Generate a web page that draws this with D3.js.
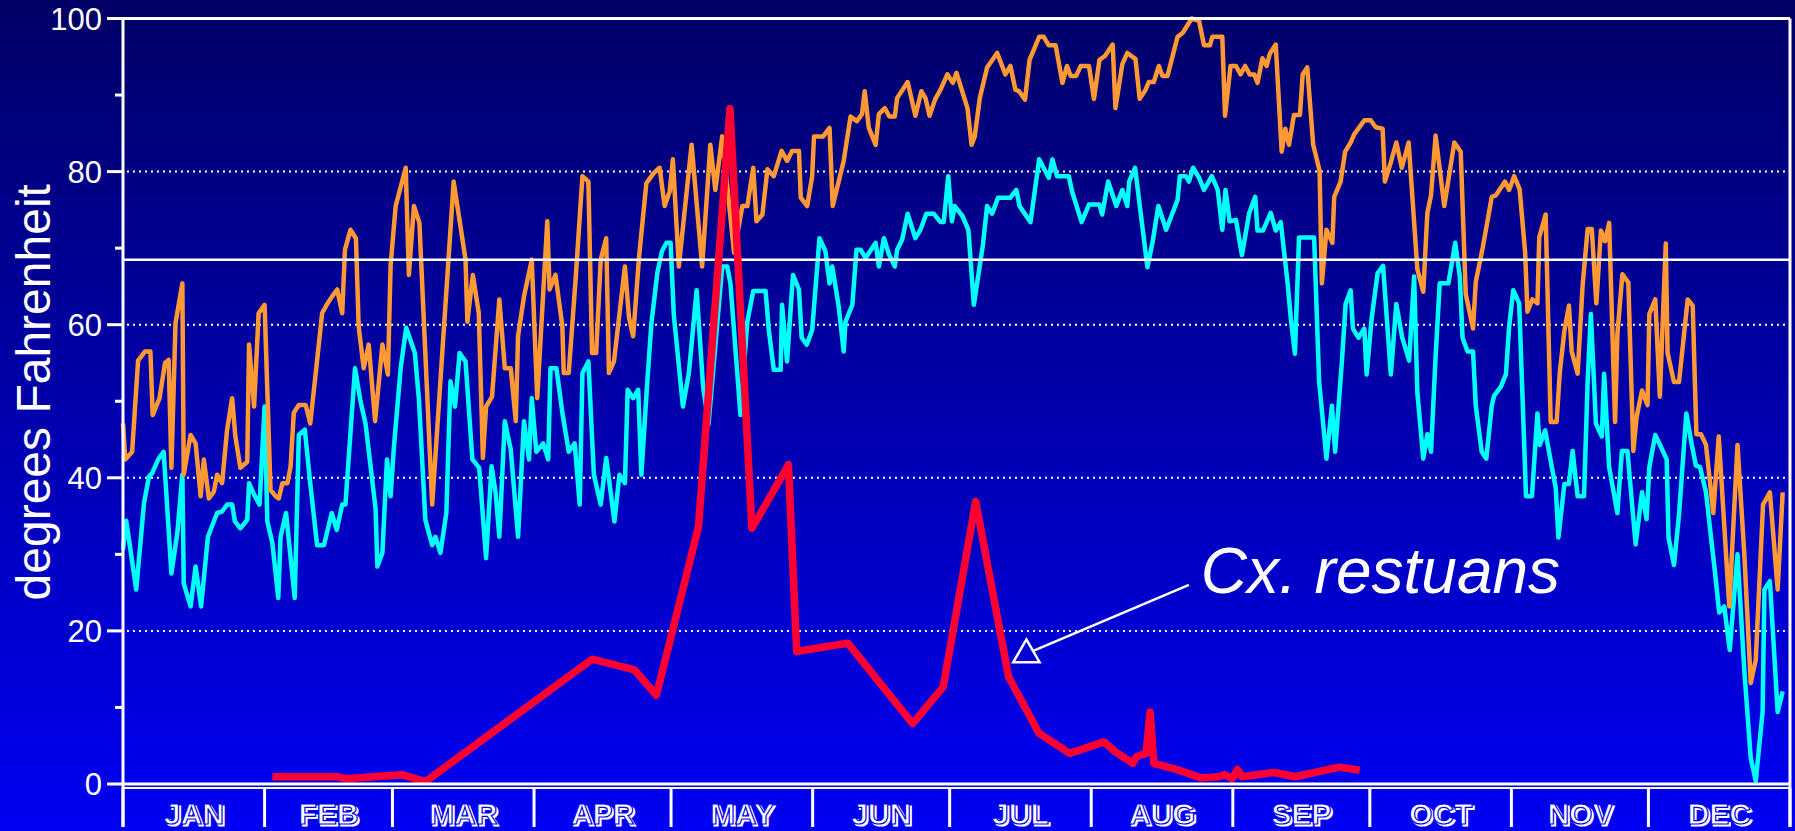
<!DOCTYPE html>
<html>
<head>
<meta charset="utf-8">
<script src="https://cdn.jsdelivr.net/npm/d3@7"></script>
<style>
  html, body { margin: 0; padding: 0; background: #000080; }
  svg { display: block; }
  text { font-family: "Liberation Sans", Arial, sans-serif; fill: #fff; }
</style>
</head>
<body>
<div id="chart"></div>
<script>
// AXIS DATA
const months = ["JAN", "FEB", "MAR", "APR", "MAY", "JUN", "JUL", "AUG", "SEP", "OCT", "NOV", "DEC"];
const monthStarts = [0, 31, 59, 90, 120, 151, 181, 212, 243, 273, 304, 334, 365];
const yTicks = [0, 20, 40, 60, 80, 100];
const yMinorTicks = [10, 30, 50, 70, 90];
const gridValues = [20, 40, 60, 80];
const referenceTemp = 68.5;

// daily max temperature, [day of year, deg F]
const maxTemp = [
  [0,47.1],[0.5,42.4],[2,43.4],[3.3,55.3],[4.8,56.5],[6,56.5],[6.5,48.2],[8,50.4],[9.2,55],[10,55.4],
  [10.6,41.3],[11.5,60.2],[13,65.4],[13.3,40.4],[14.8,45.6],[15.9,44.5],[17,37.6],[17.7,42.4],[18.8,37.3],[19.9,38.2],
  [20.6,40.4],[21.7,39.3],[22.8,46.3],[23.9,50.4],[24.6,45.4],[25.7,41.3],[27.2,42.1],[27.6,57.4],[28.7,49.3],[29.7,61.5],
  [31,62.6],[32.3,38.4],[33.4,37.6],[34.1,37.3],[34.9,39.3],[36,39.3],[36.7,41.5],[37.4,48.5],[38.5,49.5],[40,49.5],
  [41,47.1],[42.2,53.7],[43.6,61.5],[44.7,62.7],[45.8,63.7],[46.9,64.6],[48,61.5],[48.6,69.8],[49.8,72.4],[51,71.3],
  [51.6,59.8],[52.7,54.3],[53.8,57.4],[55.2,47.4],[56.8,57.4],[58,53.5],[58.6,67.8],
  [59.7,75.5],[61.9,80.5],[62.6,66.5],[63.7,75.5],[64.9,73.3],[67.7,36.5],[72.4,78.7],[75,68.5],[75.4,60.4],[76.6,66.5],
  [77.9,61.5],[78.8,42.6],[79.5,49.3],[80.8,50.6],[82.4,63.3],[83.6,54.3],[84.9,54.3],[86,47.4],[86.5,58.5],[87.8,63.7],
  [89.5,68.5],[90.7,50.4],[92.9,73.5],[93.4,64.6],[94.7,66.5],[96.2,59.8],[96.5,53.7],[97.6,53.7],[99.1,65.9],[100.6,79.4],
  [101.9,78.7],[102.7,56.3],[103.6,56.3],[104.6,68.5],[105.8,71.3],[106.4,53.7],[107.5,55.2],[109.9,67.6],[110.8,60.9],[111.7,58.5],
  [113,68.9],[114.6,78.5],[116.2,79.8],[117.5,80.5],[118.6,75.5],[119.7,77.4],[120.4,81.6],
  [121.7,67.6],[124.5,83.5],[126.8,67.6],[128.6,83.5],[129.7,77.6],[131.2,84.6],[133.8,69.4],[135.6,75.5],[136.7,75.5],[138,80.5],
  [138.7,73.5],[140,74.4],[141.1,80.3],[142.5,79.4],[144.2,82.7],[145.4,81.4],[146.5,82.7],[148,82.7],[148.4,76.6],[149.8,75.5],
  [150.9,79.4],[151.3,84.6],[153.3,84.6],[154.7,85.7],[155.4,75.5],[157.8,81.4],[159.3,87.2],[160.7,86.6],[161.8,87.5],[162.4,90.5],
  [163.3,85.7],[164.8,83.5],[165.5,87.5],[166.8,88.3],[167.8,87.2],[169,87.2],[169.5,89.6],[171.8,91.7],[173.5,87.3],[174.8,90.5],
  [175.7,89.6],[176.6,87.3],[177.8,89.4],[179,90.7],[180.5,92.7],[181.7,91.6],
  [182.5,92.9],[184.9,88.3],[185.8,83.5],[186.5,84.6],[187.6,89.6],[189.2,93.6],[191.4,95.5],[193.2,92.7],[194.3,93.8],[195.4,90.7],
  [196.2,90.5],[197.5,89.4],[198.5,94.6],[200.6,97.6],[201.6,97.6],[202.7,96.5],[204.2,96.5],[205.7,91.6],[206.7,93.8],[207.5,92.5],
  [208.7,92.5],[209.7,93.8],[211.5,93.8],[212.6,89.5],[213.8,94.6],[215,95.1],[216.7,96.6],[217.3,88.3],[218.8,94],[219.9,95.5],
  [221.7,94.7],[222.6,89.5],[223.9,90.7],[224.6,91.7],[225.7,91.7],[226.8,93.8],[227.6,92.5],[228.7,92.5],[230.9,97.6],[232,98.1],
  [234,100],[235.6,99.7],[236.7,96.5],[238,96.5],[238.5,97.6],[240.7,97.6],[241.3,87.3],[242.5,93.8],
  [243.7,93.8],[244.7,92.7],[245.7,93.8],[246.7,92.7],[247.7,92.7],[248.4,91.6],[249.5,94.8],[250.4,93.8],[251.1,95.4],[252.4,96.6],
  [253.7,82.6],[254.5,85.6],[255.3,83.5],[256.4,87.4],[257.7,87.4],[258.3,92.7],[259.3,93.6],[260.6,83.5],[262,80.1],[262.5,65.4],
  [263.5,72.4],[264.8,70.7],[265.2,76.7],[266.6,78.7],[267.6,82.6],[268.8,83.8],[269.6,84.9],[271.8,86.7],[273.2,86.7],[274.3,85.8],
  [275.8,85.6],[276.3,78.7],[277.6,81.2],[278.8,83.8],[280,80.5],[281.5,83.8],[283.4,67.3],[284.7,64.3],[285.6,74.6],[286.4,76.9],
  [287.4,84.7],[289.3,75.5],[291.5,83.8],[292.9,82.6],[294,64],[295.6,59.5],[296.2,65.6],[297.7,70],[299.7,76.7],[300.6,76.9],
  [302.6,78.7],[303.5,77.6],[304.6,79.4],
  [305.8,77.7],[307,69.5],[307.5,61.7],[308.6,63.3],[309.7,62.8],[310.1,71.4],[311.5,74.4],[312.6,47.3],[313.9,47.3],[314.6,53.8],
  [315.6,59.2],[316.6,62.5],[317.2,56.5],[318.5,53.6],[319.6,65.2],[320.7,72.5],[321.6,72.5],[322.6,62.8],[323.6,72.3],[324.5,70.9],
  [325.4,73.3],[326.7,47.3],[327.2,58.7],[328.3,66.6],[329.6,65.5],[330.7,43.5],[331.4,47.9],[332.6,51.4],[333.8,49.5],[334.2,61.4],
  [335.5,63.3],[336.5,50.6],[337.8,70.6],[338.2,56.3],[339.6,52.5],[340.7,52.5],[342.6,63.3],[343.7,62.5],[344.5,45.7],[345.5,45.7],
  [346.6,44.3],[348.2,35.4],[349.4,45.4],[351.7,23.2],[353.5,44.3],[355,30],[356.4,13.2],[357.5,16.2],[359.1,36.5],[360.6,38.1],
  [362.3,25.4],[363.4,38.1]
];

// daily min temperature, [day of year, deg F]
const minTemp = [
  [0,30.6],[0.7,34.4],[2.9,25.4],[4.6,36.7],[5.7,40.2],[6.4,40.6],[7.7,42.4],[8.9,43.4],[10.6,27.5],[11.9,32.8],
  [13,40.4],[13.3,26.2],[14.8,23.2],[15.9,28.4],[17.1,23.2],[18.6,32.3],[20.6,35.4],[21.7,35.6],[22.8,36.5],[23.9,36.5],
  [24.5,34.3],[25.7,33.4],[27.2,34.5],[27.6,39.3],[28.7,37.8],[29.9,36.5],[31,49.3],[31.6,34.3],[32.7,31.5],[34,24.3],
  [34.5,32.3],[35.7,35.4],[37.6,24.3],[38.5,45.6],[39.8,46.3],[41,39.3],[42.5,31.2],[44,31.2],[45.7,35.4],[46.8,33.2],
  [48,36.5],[48.7,36.5],[50.8,54.3],[52,50],[53.1,47.1],[55.3,36],[55.7,28.4],[56.8,30.2],[57.8,42.4],[58.6,37.6],[59.3,43.9],
  [60.8,54.3],[62,59.6],[63.9,56.3],[64.8,50.2],[66.2,34.5],[67.7,31.2],[68.4,32.3],[69.5,30.2],[70.8,35.4],[71.7,52.6],
  [72.7,49.3],[73.7,56.3],[75,55.2],[76.5,42.4],[78,41.3],[79.5,29.5],[80.7,41.5],[81.6,38],[82.4,32.3],[83.6,47.4],
  [84.9,43.7],[86.5,32.3],[87.8,47.4],[88.9,42.4],[89.5,50.4],[90.5,43.4],[92,44.5],[93.1,42.4],[93.6,54.3],[94.9,54.3],
  [96.2,48.5],[97.6,43.4],[98.9,44.5],[100,36.5],[100.6,53.7],[101.9,55.2],[103.1,40.4],[104.6,36.5],[105.8,42.6],[107.6,34.3],
  [108.7,40.4],[109.9,39.3],[110.5,51.5],[111.7,50.4],[112.8,51.5],[113.5,40.4],[114.8,52.6],[115.7,60.2],[117,66.8],[118,69.6],
  [119,70.7],[119.9,70.7],[120.6,61.3],
  [122.6,49.3],[123.9,53.7],[125.6,64.5],[127,52],[128.2,47],[131.2,67.6],[132.3,67.6],[133,65.4],[135.2,48.2],[136.7,60.4],
  [138,64.4],[140.7,64.4],[141.4,59.3],[142.5,54.1],[144,54.1],[144.3,62.6],[145.4,55.2],[146.7,66.5],[148,64.6],[148.6,58.3],
  [149.7,57.4],[150.9,59.3],[152.5,71.3],[153.8,69.6],[154.7,65.4],[155.3,67.6],[156.7,62.4],[157.8,56.5],[158.2,60.4],[159.7,62.6],
  [160.6,69.8],[161.5,69.8],[162.6,68.7],[164.8,70.7],[165.5,67.6],[166.6,71.3],[167.7,69.2],[169,67.6],[169.5,69.8],[170.6,71.1],
  [171.8,74.5],[173.5,71.3],[174.6,72.4],[175.9,74.5],[177.5,74.5],[179,73.4],[179.7,73.4],[180.7,79.4],[181.5,73.5],[182.1,75.5],
  [183.8,74.2],[185.1,72.4],[186.3,62.6],[188.3,70.5],[189.2,75.5],[190.3,74.5],[191.6,76.6],[194.3,76.6],[195.6,77.6],[196.3,75.5],
  [198.7,73.4],[200.6,81.6],[202.7,79.2],[203.5,81.6],[204.5,79.4],[207.1,79.4],[207.8,77.4],[209.9,73.4],[211.5,75.7],[213.8,75.7],
  [214.4,74.4],[215.7,78.7],[217.5,75.5],[218.8,77.6],[219.9,75.5],[220.3,78.7],[221.6,80.5],[224.3,67.5],[225.4,70.7],[226.7,75.5],
  [228.4,72.4],[230.9,76.3],[231.4,79.4],[232.7,79.4],[233.4,78.7],[234.3,80.5],[235.6,79.2],[236.7,77.6],[238.4,79.4],[239.7,77.6],
  [240.7,72.4],[241.4,77.6],[242.3,73.5],
  [243.7,73.7],[245,69.1],[246.6,74.6],[247.9,76.7],[248.4,72.3],[249.6,72.3],[251.3,74.6],[252.4,72.3],[253.5,73.4],[255,65.4],
  [255.7,60.8],[256.6,56.2],[257.5,71.4],[260.8,71.4],[261.9,52.6],[263.5,42.5],[264.7,49.4],[265.4,43.4],[266.9,55.3],[267.7,62.7],
  [268.8,64.5],[269.3,59.5],[270.5,58.3],[271.8,59.5],[272.3,53.5],[273.4,60.8],[274.7,66.7],[275.9,67.7],[277.6,53.5],[278.8,62.7],
  [280.1,58.3],[281.6,55.3],[282.7,66.3],[283.4,51.2],[284.7,42.5],[285.6,45.7],[286.4,43.4],[287.4,55.8],[288.3,65.4],[290.2,65.4],
  [291.7,70.7],[292.7,66.3],[293.3,58.3],[294.4,56.5],[295.6,56.5],[296.2,49.4],[297.5,43.4],[298.5,42.5],[299.7,49.4],[300.2,50.7],
  [301.7,51.9],[302.8,53.5],[303.5,59.7],[304.4,64.5],
  [305.7,62.8],[307.2,37.6],[308.5,37.6],[309.7,48.4],[310.2,44.3],[311.4,46.2],[312.6,42.2],[313.7,38.7],[314.3,32.2],[315.6,39.2],
  [316.6,39.2],[317.4,43.5],[318.5,37.6],[319.9,37.6],[320.7,52.7],[321.4,61.4],[322.5,47.1],[323.8,45.4],[324.3,53.6],[325.4,41.4],
  [327.2,35.4],[328.2,43.5],[329.4,43.5],[331.2,31.3],[332.6,38.1],[333.6,34.6],[334.2,41.4],[335.5,45.6],[336.7,44.1],[338,42.4],
  [338.4,32.2],[339.6,28.6],[340.7,35.2],[342.3,48.4],[343.5,44.3],[344.4,41.6],[345.3,41.4],[346.6,38.1],[348.6,27.5],[349.5,22.4],
  [350.6,23.2],[351.8,17.5],[353.5,30],[355,14.8],[356.4,3.4],[357.5,0.4],[359,9.4],[359.4,25.4],[360.6,26.5],[362.3,9.4],
  [363.4,12.1]
];

// Cx. restuans collections, [day of year, count]
const restuans = [
  [32.7,0.95],[46.9,0.95],[48.6,0.7],[61.2,1.2],[66.2,0.3],[102.7,16.3],[112,14.9],[116.8,11.6],[126,33.6],[132.9,88.2],
  [137.7,33.4],[145.7,41.7],[147.5,17.3],[158.7,18.4],[172.9,7.9],[179.6,12.7],[186.7,36.9],[193.9,14],[200.6,6.6],[207.3,4],
  [214.8,5.5],[217.3,4.2],[221.1,2.7],[222,3.6],[224,4],[224.9,9.4],[225.7,2.7],[231.2,1.8],[236,0.8],[239.9,0.95],
  [241.2,1.2],[242.9,0.7],[244,1.9],[245,0.95],[252.1,1.5],[256.7,0.95],[266.3,2.2],[270.8,1.8]
];

// ANNOTATION (data units)
const labelText = "Cx. restuans";
const labelAt = [236, 25];
const arrowFrom = [233.4, 26];
const arrowTo = [199.3, 17.4];
const arrowHead = [197.8, 16.9];

// LAYOUT
const width = 1795;
const height = 831;
const bottom = 827;

const svg = d3.select("#chart")
  .append("svg")
  .attr("width", width)
  .attr("height", height);

// background gradient, dark navy to bright blue
const grad = svg.append("defs")
  .append("linearGradient")
  .attr("id", "bg")
  .attr("x1", 0).attr("y1", 0).attr("x2", 0).attr("y2", 1);
grad.append("stop").attr("offset", "0%").attr("stop-color", "#000066");
grad.append("stop").attr("offset", "100%").attr("stop-color", "#0000f4");

svg.append("rect")
  .attr("width", width)
  .attr("height", height)
  .attr("fill", "url(#bg)");

const x = d3.scaleLinear().domain([0, 365]).range([123, 1790]);
const y = d3.scaleLinear().domain([0, 100]).range([784, 18.5]);

// dotted grid
svg.selectAll("line.grid")
  .data(gridValues)
  .enter()
  .append("line")
  .attr("class", "grid")
  .attr("x1", x(0) + 4)
  .attr("x2", x(365))
  .attr("y1", d => y(d))
  .attr("y2", d => y(d))
  .attr("stroke", "#fff")
  .attr("stroke-width", 2)
  .attr("stroke-dasharray", "2,4");

const line = d3.line()
  .x(d => x(d[0]))
  .y(d => y(d[1]));

svg.append("path")
  .attr("d", line(minTemp))
  .attr("fill", "none")
  .attr("stroke", "#00ffff")
  .attr("stroke-width", 4.5)
  .attr("stroke-linejoin", "round");

svg.append("path")
  .attr("d", line(maxTemp))
  .attr("fill", "none")
  .attr("stroke", "#ff9933")
  .attr("stroke-width", 4.5)
  .attr("stroke-linejoin", "round");

// solid reference line
svg.append("line")
  .attr("x1", x(0))
  .attr("x2", x(365))
  .attr("y1", y(referenceTemp))
  .attr("y2", y(referenceTemp))
  .attr("stroke", "#fff")
  .attr("stroke-width", 2.5);

svg.append("path")
  .attr("d", line(restuans))
  .attr("fill", "none")
  .attr("stroke", "#ff0033")
  .attr("stroke-width", 7.5)
  .attr("stroke-linejoin", "round");

// FRAME
const frame = svg.append("g").attr("stroke", "#fff").attr("stroke-width", 3);
frame.append("line").attr("x1", x(0)).attr("x2", x(365)).attr("y1", y(100)).attr("y2", y(100));
frame.append("line").attr("x1", x(0)).attr("x2", x(0)).attr("y1", y(100)).attr("y2", bottom);
frame.append("line").attr("x1", x(365)).attr("x2", x(365)).attr("y1", y(100)).attr("y2", bottom);
frame.append("line").attr("x1", x(0)).attr("x2", x(365)).attr("y1", y(0)).attr("y2", y(0));
frame.append("line").attr("x1", x(0)).attr("x2", x(365)).attr("y1", y(0) + 4).attr("y2", y(0) + 4)
  .attr("stroke-width", 2);

// y ticks
frame.selectAll("line.major")
  .data(yTicks)
  .enter()
  .append("line")
  .attr("class", "major")
  .attr("x1", x(0) - 16)
  .attr("x2", x(0))
  .attr("y1", d => y(d))
  .attr("y2", d => y(d));

frame.selectAll("line.minor")
  .data(yMinorTicks)
  .enter()
  .append("line")
  .attr("class", "minor")
  .attr("x1", x(0) - 8)
  .attr("x2", x(0))
  .attr("y1", d => y(d))
  .attr("y2", d => y(d));

svg.selectAll("text.ylab")
  .data(yTicks)
  .enter()
  .append("text")
  .attr("class", "ylab")
  .attr("x", x(0) - 21)
  .attr("y", d => y(d))
  .attr("dy", "0.36em")
  .attr("text-anchor", "end")
  .style("font-size", "31px")
  .text(d => d);

svg.append("text")
  .attr("transform", "translate(50," + ((y(100) + y(0)) / 2 - 9) + ") rotate(-90)")
  .attr("text-anchor", "middle")
  .style("font-size", "48px")
  .text("degrees Fahrenheit");

// month separators and labels
frame.selectAll("line.sep")
  .data(monthStarts)
  .enter()
  .append("line")
  .attr("class", "sep")
  .attr("x1", d => x(d))
  .attr("x2", d => x(d))
  .attr("y1", y(0) + 4)
  .attr("y2", bottom);

const monthMid = months.map((m, i) => [m, (monthStarts[i] + monthStarts[i + 1]) / 2]);

// embossed look: an offset copy behind, then the label with a thin blue edge
function monthLabels(cls, dx, dy, edge) {
  svg.selectAll("text." + cls)
    .data(monthMid)
    .enter()
    .append("text")
    .attr("class", cls)
    .attr("x", d => x(d[1]) + dx)
    .attr("y", 824 + dy)
    .attr("text-anchor", "middle")
    .style("font-size", "30px")
    .style("font-weight", "bold")
    .style("stroke", edge)
    .style("stroke-width", 1.2)
    .text(d => d[0]);
}
monthLabels("month-back", 2, 2, "#fff");
monthLabels("month", 0, 0, "#0000ee");

// ANNOTATION
svg.append("text")
  .attr("x", x(labelAt[0]))
  .attr("y", y(labelAt[1]))
  .style("font-size", "64px")
  .style("font-style", "italic")
  .text(labelText);

svg.append("line")
  .attr("x1", x(arrowFrom[0]))
  .attr("y1", y(arrowFrom[1]))
  .attr("x2", x(arrowTo[0]))
  .attr("y2", y(arrowTo[1]))
  .attr("stroke", "#fff")
  .attr("stroke-width", 2.5);

svg.append("path")
  .attr("d", d3.symbol().type(d3.symbolTriangle).size(300)())
  .attr("transform", "translate(" + x(arrowHead[0]) + "," + y(arrowHead[1]) + ")")
  .attr("fill", "none")
  .attr("stroke", "#fff")
  .attr("stroke-width", 2.5);
</script>
</body>
</html>
